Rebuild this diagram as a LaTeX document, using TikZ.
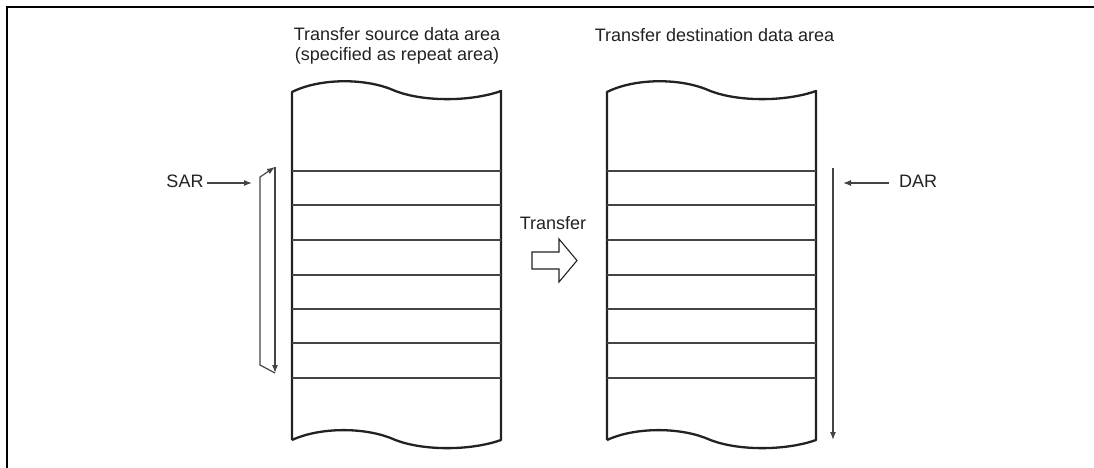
\documentclass[tikz,border=0pt]{standalone}
\usepackage{fontspec}
\setmainfont{Liberation Sans}
\usetikzlibrary{arrows.meta}
\definecolor{ink}{HTML}{222222}
\definecolor{thin}{HTML}{444444}
\tikzset{
  lbl/.style={font=\fontsize{18}{19.3}\selectfont, text=ink, inner sep=0pt, anchor=base},
  outline/.style={draw=ink, line width=2.3pt, line join=round},
  rowline/.style={draw=thin, line width=1.2pt},
  ptr/.style={draw=thin, line width=1.2pt, -{Latex[length=8pt,width=6pt]}},
  framestyle/.style={draw=black, line width=2.6pt},
  blockarrow/.style={draw=ink, line width=1.1pt, line join=miter},
}
\begin{document}
\begin{tikzpicture}[x=1pt,y=-1pt]
\useasboundingbox (0,0) rectangle (1094,467);
% frame
\draw[framestyle] (7,470) -- (7,7) -- (1096,7);

% columns
\foreach \dx in {0,315} {
  \begin{scope}[xshift=\dx]
    \draw[outline] (292,440) -- (292,92)
      .. controls (320,78) and (365,78) .. (393,90)
      .. controls (421,102) and (470,102) .. (501,91) -- (501,440)
      .. controls (470,451) and (421,451) .. (393,439)
      .. controls (365,427) and (320,427) .. (292,440);
    \foreach \y in {171,205,240,275,309,343,378}
      \draw[rowline] (292,\y) -- (501,\y);
  \end{scope}
}

% titles
\node[lbl, align=center] (srctitle) at (397,60) {Transfer source data area\\(specified as repeat area)};
\node[lbl] (dsttitle) at (714.5,41) {Transfer destination data area};

% SAR
\node[lbl] (sar) at (185,187.3) {SAR};
\coordinate (sarend) at (252,183);
\path (sar.east |- sarend) ++(3,0) coordinate (sarstart);
\draw[ptr] (sarstart) -- (sarend);
\coordinate (lt) at (260,177);
\coordinate (lb) at (260,365);
\coordinate (rt) at (275,167);
\coordinate (rb) at (275,373);
\draw[ptr] (rt) -- (rb);
\draw[ptr] (rb) -- (lb) -- (lt) -- (rt);

% Transfer
\node[lbl] (transfer) at (553,229) {Transfer};
\draw[blockarrow] (532,252) -- (559,252) -- (559,239) -- (577,260.5) -- (559,282) -- (559,269) -- (532,269) -- cycle;

% DAR
\node[lbl] (dar) at (918,187.3) {DAR};
\coordinate (dartip) at (843,183);
\path (dar.west |- dartip) ++(-10,0) coordinate (darstart);
\draw[ptr] (darstart) -- (dartip);
\coordinate (dtop) at (833,168);
\coordinate (dbot) at (833,440);
\draw[ptr] (dtop) -- (dbot);
\end{tikzpicture}
\end{document}
